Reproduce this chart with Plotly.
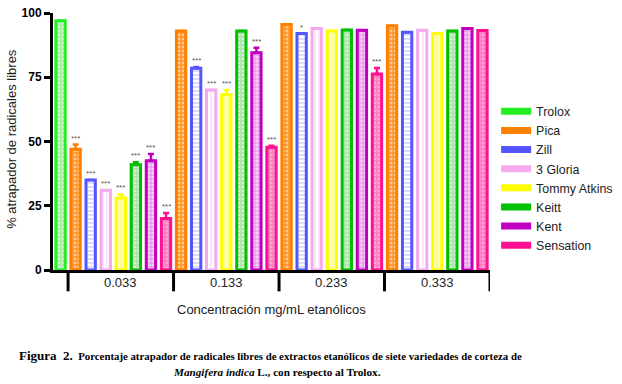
import plotly.graph_objects as go

groups = ["0.033", "0.133", "0.233", "0.333"]
varieties = ["Pica", "Zill", "3 Gloria", "Tommy Atkins", "Keitt", "Kent", "Sensation"]

trolox = [97]
trolox_err = [0]

pica = [47, 93, 95.5, 95]
pica_err = [1.8, 0, 0, 0]
pica_sig = ["***", "", "", ""]

zill = [35, 78.5, 92, 92.5]
zill_err = [0, 0.5, 0, 0]
zill_sig = ["***", "***", "*", ""]

gloria = [31, 70, 94, 93.3]
gloria_err = [0, 0, 0, 0]
gloria_sig = ["***", "***", "", ""]

tommy = [28, 68.3, 93, 92]
tommy_err = [1.4, 1.7, 0, 0]
tommy_sig = ["***", "***", "", ""]

keitt = [41, 93, 93.4, 93]
keitt_err = [0.9, 0, 0, 0]
keitt_sig = ["***", "", "", ""]

kent = [42.5, 84.5, 93.3, 94]
kent_err = [2.6, 2, 0, 0]
kent_sig = ["***", "***", "", ""]

sensation = [20, 47.8, 76.3, 93.2]
sensation_err = [2.2, 0.5, 2.3, 0]
sensation_sig = ["***", "***", "***", ""]

series = [pica, zill, gloria, tommy, keitt, kent, sensation]
errs = [pica_err, zill_err, gloria_err, tommy_err, keitt_err, kent_err, sensation_err]
sigs = [pica_sig, zill_sig, gloria_sig, tommy_sig, keitt_sig, kent_sig, sensation_sig]

# styles: (border color, pattern shape, fg, bg)
trolox_style = ("#22ee22", ".", "#ffffff", "#a6eea6")
styles = [
    ("#ff8000", ".", "#ffffff", "#ff9a30"),
    ("#5555ff", "-", "#9a9aff", "#ffffff"),
    ("#f5aaee", "|", "#f5bcf0", "#ffffff"),
    ("#ffff00", "|", "#ffffff", "#ffff90"),
    ("#00c000", ".", "#ffffff", "#aee4ae"),
    ("#c000c0", "+", "#cc33cc", "#f4d0f4"),
    ("#ff1090", ".", "#ffd0e8", "#ff80bf"),
]

FONT = "Arial, Liberation Sans, sans-serif"
BW = 0.62

fig = go.Figure()

def add_series(name, xs, ys, es, style):
    col, shp, fg, bg = style
    fig.add_trace(go.Bar(
        x=xs, y=ys, width=BW, name=name, legendgroup=name, showlegend=False,
        marker=dict(color=bg, line=dict(color=col, width=3),
                    pattern=dict(shape=shp, fgcolor=fg, bgcolor=bg, size=4, solidity=0.35)),
        error_y=dict(type="data", array=es, arrayminus=[0] * len(es), symmetric=False,
                     color=col, thickness=2.5, width=3),
    ))
    fig.add_trace(go.Scatter(
        x=[None], y=[None], mode="lines", name=name, legendgroup=name,
        line=dict(color=col, width=7),
    ))

add_series("Trolox", [0], trolox, trolox_err, trolox_style)
for i, (name, vals, er, st) in enumerate(zip(varieties, series, errs, styles)):
    xs = [1 + 7 * g + i for g in range(len(groups))]
    add_series(name, xs, vals, er, st)
    for g in range(len(groups)):
        if sigs[i][g]:
            fig.add_annotation(x=xs[g], y=vals[g] + er[g], text=sigs[i][g], showarrow=False,
                               yanchor="bottom", yshift=0, font=dict(size=8, color="#555", family=FONT))

# group brackets and labels
for g in range(len(groups) + 1):
    fig.add_shape(type="line", xref="x", yref="paper", x0=0.5 + 7 * g, x1=0.5 + 7 * g,
                  y0=0, y1=-0.083, line=dict(color="black", width=3))
for g, lab in enumerate(groups):
    fig.add_annotation(x=4 + 7 * g, xref="x", yref="paper", y=-0.05, text=lab, showarrow=False,
                       yanchor="middle", font=dict(size=13, family=FONT, color="#222"))

fig.add_annotation(x=0.5, xref="paper", yref="paper", y=-0.155, text="Concentración mg/mL etanólicos",
                   showarrow=False, yanchor="middle", font=dict(size=13, family=FONT, color="#222"))
fig.add_annotation(x=-0.094, xref="paper", yref="paper", y=0.51, text="% atrapador de radicales libres",
                   showarrow=False, textangle=-90, xanchor="center", yanchor="middle",
                   font=dict(size=13, family=FONT, color="#222"))

SERIF = "Liberation Serif, Times New Roman, serif"
fig.add_annotation(xref="paper", yref="paper", x=-0.083, y=-0.333, xanchor="left", yanchor="middle",
                   text="<b><span style='font-size:13px'>Figura  2.</span>  Porcentaje atrapador de radicales libres de extractos etanólicos de siete variedades de corteza de</b>",
                   showarrow=False, font=dict(size=10.8, family=SERIF, color="black"))
fig.add_annotation(xref="paper", yref="paper", x=0.512, y=-0.395, xanchor="center", yanchor="middle",
                   text="<b><i>Mangifera indica</i> L., con respecto al Trolox.</b>",
                   showarrow=False, font=dict(size=11.2, family=SERIF, color="black"))

fig.update_layout(
    width=622, height=384,
    margin=dict(l=53, r=132, t=13, b=114, autoexpand=False),
    paper_bgcolor="white", plot_bgcolor="white",
    barmode="overlay",
    showlegend=True,
    legend=dict(x=1.014, y=0.674, xanchor="left", yanchor="top", font=dict(size=12.4, family=FONT, color="#222"),
                tracegroupgap=0, itemwidth=30, bgcolor="rgba(0,0,0,0)"),
    xaxis=dict(range=[-0.5, 28.5], showticklabels=False, ticks="", showgrid=False, zeroline=False,
               showline=True, linecolor="black", linewidth=3),
    yaxis=dict(range=[0, 100], tickvals=[0, 25, 50, 75, 100], ticks="outside", ticklen=6, tickwidth=3,
               tickcolor="black", showgrid=False, zeroline=False, showline=True, linecolor="black",
               linewidth=3, tickfont=dict(size=12, family=FONT, color="black", weight="bold")),
)

fig.write_html("out.html", config={"displayModeBar": False},
               post_script="document.body.style.margin='0';")
